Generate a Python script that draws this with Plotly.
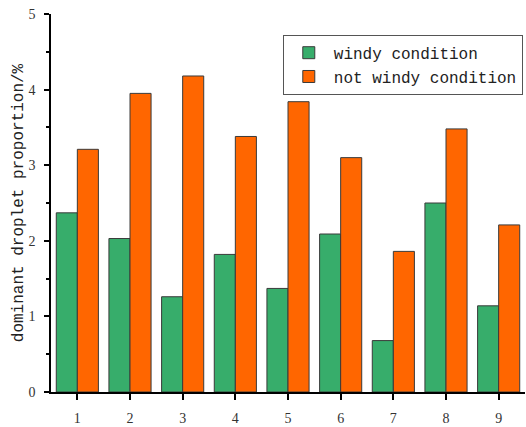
import plotly.graph_objects as go

categories = [1, 2, 3, 4, 5, 6, 7, 8, 9]
windy = [2.37, 2.03, 1.26, 1.82, 1.37, 2.09, 0.68, 2.50, 1.14]
not_windy = [3.21, 3.95, 4.18, 3.38, 3.84, 3.10, 1.86, 3.48, 2.21]
y_ticks = [0, 1, 2, 3, 4, 5]

fig = go.Figure()
fig.add_trace(go.Bar(x=categories, y=windy, name="windy condition",
                     marker=dict(color="#37AD6B", line=dict(color="#3a3a3a", width=1))))
fig.add_trace(go.Bar(x=categories, y=not_windy, name="not windy condition",
                     marker=dict(color="#FF6600", line=dict(color="#3a3a3a", width=1))))

fig.update_layout(
    width=526, height=427,
    margin=dict(l=51, r=1, t=14, b=33),
    paper_bgcolor="white", plot_bgcolor="white",
    barmode="group", bargap=0.2, bargroupgap=0,
    font=dict(family="Liberation Mono", size=16, color="#222"),
    showlegend=True,
    legend=dict(x=0.489, y=0.945, xanchor="left", yanchor="top",
                bgcolor="white", bordercolor="#555", borderwidth=1,
                font=dict(family="Liberation Mono", size=16, color="#222"),
                tracegroupgap=0, itemwidth=40),
    xaxis=dict(range=[0.5, 9.5], tickvals=categories, ticktext=[str(c) for c in categories],
               showgrid=False, zeroline=False, showline=True, linecolor="black", linewidth=1.5,
               ticks="outside", ticklen=6, tickwidth=1.5, tickcolor="black",
               tickfont=dict(family="Liberation Serif", size=14, color="#333"),
               ticklabelstandoff=6),
    yaxis=dict(range=[0, 5], tickvals=y_ticks, showgrid=False, zeroline=False,
               showline=True, linecolor="black", linewidth=1.5,
               ticks="outside", ticklen=5, tickwidth=1.5, tickcolor="black",
               minor=dict(dtick=0.5, ticks="outside", ticklen=3, tickwidth=1.5, tickcolor="black"),
               tickfont=dict(family="Liberation Serif", size=14, color="#333"),
               ticklabelstandoff=6,
               title=dict(text="dominant droplet proportion/%",
                          font=dict(family="Liberation Mono", size=16, color="#222"),
                          standoff=1)),
)

fig.write_html("out.html", config={"displayModeBar": False},
               post_script="document.body.style.margin='0';document.body.style.overflow='hidden';")
